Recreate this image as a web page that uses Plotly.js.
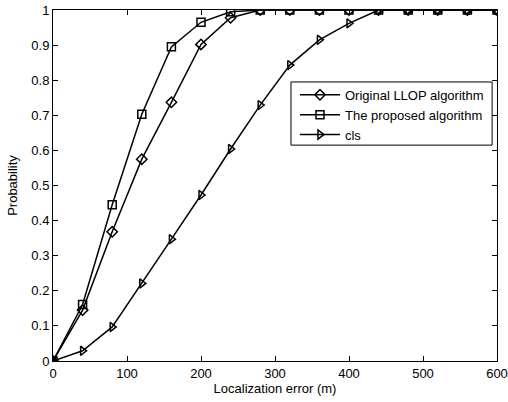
<!DOCTYPE html>
<html>
<head>
<meta charset="utf-8">
<script src="https://cdn.plot.ly/plotly-3.0.1.min.js"></script>
<style>html,body{margin:0;padding:0;background:#fff}#chart{width:508px;height:402px}</style>
</head>
<body>
<div id="chart"></div>
<script>
var errors = [0, 40, 80, 120, 160, 200, 240, 280, 320, 360, 400, 440, 480, 520, 560, 600];
var llop = [0, 0.145, 0.368, 0.575, 0.737, 0.902, 0.978, 1, 1, 1, 1, 1, 1, 1, 1, 1];
var proposed = [0, 0.161, 0.445, 0.703, 0.895, 0.965, 0.995, 1, 1, 1, 1, 1, 1, 1, 1, 1];
var cls = [0, 0.029, 0.097, 0.221, 0.347, 0.473, 0.604, 0.729, 0.843, 0.915, 0.962, 1, 1, 1, 1, 1];
var seriesNames = ['Original LLOP algorithm', 'The proposed algorithm', 'cls'];

function tr(y, name, sym) {
  return {x: errors, y: y, name: name, type: 'scatter', mode: 'lines+markers',
    line: {color: '#000', width: 1.5},
    marker: {symbol: sym, size: 8, color: '#000', line: {color: '#000', width: 1.5}}};
}
var data = [
  tr(llop, seriesNames[0], 'diamond-open'),
  tr(proposed, seriesNames[1], 'square-open'),
  tr(cls, seriesNames[2], 'triangle-right-open')
];
var font = {family: 'Arial, "Liberation Sans", sans-serif', size: 13, color: '#000'};
var layout = {
  width: 508, height: 402,
  margin: {l: 53, r: 11, t: 10, b: 41},
  paper_bgcolor: '#fff', plot_bgcolor: '#fff',
  font: font,
  showlegend: true,
  legend: {x: 0.545, y: 0.801, xanchor: 'left', yanchor: 'top',
    borderwidth: 0, bgcolor: 'rgba(0,0,0,0)', itemwidth: 40,
    font: {family: font.family, size: 13, color: '#000'}, tracegroupgap: 0},
  shapes: [{type: 'rect', xref: 'paper', yref: 'paper', x0: 0.536, x1: 0.989, y0: 0.615, y1: 0.795,
    line: {color: '#000', width: 1}, fillcolor: '#fff', layer: 'below'}],
  xaxis: {range: [0, 600], dtick: 100, tick0: 0, ticks: 'inside', ticklen: 5,
    tickcolor: '#000', showline: true, linecolor: '#000', linewidth: 1, mirror: 'ticks',
    showgrid: false, zeroline: false, tickfont: {size: 13},
    title: {text: 'Localization error (m)', font: {size: 13}, standoff: 4}},
  yaxis: {range: [0, 1], dtick: 0.1, tick0: 0, ticks: 'inside', ticklen: 5,
    tickcolor: '#000', showline: true, linecolor: '#000', linewidth: 1, mirror: 'ticks',
    showgrid: false, zeroline: false, tickfont: {size: 13},
    title: {text: 'Probability', font: {size: 13}, standoff: 10}}
};
Plotly.newPlot('chart', data, layout, {displayModeBar: false, staticPlot: true});
</script>
</body>
</html>
